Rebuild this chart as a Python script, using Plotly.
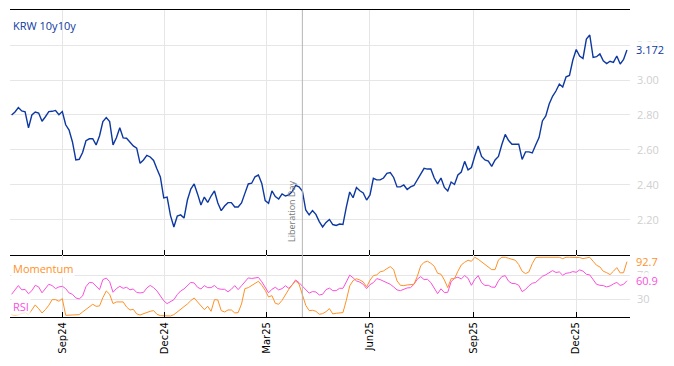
import pandas as pd
import plotly.graph_objects as go
from plotly.subplots import make_subplots

# ---- data ----
dates = pd.date_range("2024-07-18", periods=183, freq="3D")

krw_10y10y = [
    2.800, 2.817, 2.843, 2.823, 2.818, 2.726, 2.800, 2.817, 2.811, 2.764,
    2.790, 2.819, 2.821, 2.826, 2.802, 2.820, 2.744, 2.714, 2.646, 2.543,
    2.547, 2.586, 2.653, 2.664, 2.665, 2.629, 2.680, 2.762, 2.785, 2.762,
    2.629, 2.670, 2.727, 2.669, 2.667, 2.646, 2.623, 2.611, 2.524, 2.543,
    2.569, 2.560, 2.540, 2.491, 2.446, 2.326, 2.331, 2.225, 2.160, 2.223,
    2.229, 2.211, 2.314, 2.377, 2.406, 2.349, 2.286, 2.331, 2.300, 2.337,
    2.366, 2.297, 2.253, 2.280, 2.299, 2.299, 2.274, 2.274, 2.297, 2.352,
    2.406, 2.410, 2.447, 2.457, 2.409, 2.311, 2.295, 2.366, 2.334, 2.320,
    2.349, 2.337, 2.344, 2.362, 2.398, 2.389, 2.366, 2.257, 2.229, 2.254,
    2.232, 2.191, 2.160, 2.186, 2.203, 2.174, 2.169, 2.177, 2.174, 2.274,
    2.360, 2.327, 2.385, 2.367, 2.354, 2.314, 2.343, 2.438, 2.429, 2.429,
    2.440, 2.467, 2.471, 2.443, 2.389, 2.389, 2.400, 2.374, 2.389, 2.397,
    2.429, 2.466, 2.495, 2.491, 2.491, 2.440, 2.406, 2.440, 2.386, 2.366,
    2.417, 2.403, 2.457, 2.474, 2.535, 2.486, 2.500, 2.566, 2.623, 2.563,
    2.543, 2.537, 2.506, 2.543, 2.563, 2.631, 2.689, 2.654, 2.633, 2.633,
    2.633, 2.546, 2.589, 2.589, 2.583, 2.629, 2.671, 2.766, 2.795, 2.863,
    2.907, 2.937, 2.977, 2.960, 3.018, 3.026, 3.114, 3.174, 3.137, 3.123,
    3.234, 3.257, 3.129, 3.133, 3.149, 3.109, 3.094, 3.107, 3.101, 3.137,
    3.091, 3.117, 3.172,
]

rsi = [
    38.3, 45.6, 52.8, 45.8, 46.4, 39.2, 44.4, 53.3, 50.6, 40.8,
    47.8, 55.0, 52.8, 47.8, 50.6, 51.7, 47.8, 40.6, 38.3, 32.2,
    30.6, 35.6, 51.1, 58.1, 57.5, 51.1, 46.1, 62.8, 65.3, 59.4,
    41.7, 47.8, 51.7, 48.3, 50.0, 45.8, 47.2, 41.4, 40.6, 41.4,
    48.9, 53.1, 49.4, 43.9, 35.8, 27.5, 22.8, 25.6, 29.4, 37.8,
    43.9, 47.2, 52.2, 58.1, 57.2, 50.0, 47.2, 52.8, 49.4, 49.4,
    53.1, 47.8, 46.7, 46.7, 42.5, 46.7, 52.8, 46.1, 52.5, 59.4,
    65.6, 64.7, 66.1, 66.4, 59.2, 50.8, 40.8, 46.7, 50.0, 45.6,
    47.8, 52.5, 48.3, 54.2, 62.2, 57.8, 51.7, 46.4, 40.3, 42.8,
    42.2, 37.2, 38.3, 46.1, 48.6, 44.4, 44.4, 48.3, 48.3, 58.9,
    70.3, 65.8, 60.6, 58.6, 55.0, 47.8, 54.4, 57.8, 64.4, 62.8,
    60.0, 58.3, 55.0, 50.6, 45.6, 44.4, 46.9, 48.9, 49.4, 55.0,
    63.6, 67.8, 62.8, 63.3, 57.8, 49.4, 39.4, 47.5, 41.1, 41.7,
    59.4, 65.0, 66.7, 63.9, 69.4, 65.0, 53.3, 63.1, 69.4, 57.8,
    53.1, 53.3, 50.3, 50.0, 60.8, 67.8, 69.4, 60.0, 56.4, 56.1,
    53.3, 42.8, 46.4, 52.5, 56.7, 58.1, 63.3, 68.3, 70.8, 74.7,
    77.8, 74.7, 75.6, 70.0, 73.3, 74.2, 76.1, 75.0, 78.9, 76.9,
    71.7, 70.6, 61.7, 55.0, 53.3, 52.8, 50.6, 52.2, 55.6, 58.1,
    53.1, 55.0, 60.9,
]

momentum = [
    4.4, 3.3, 4.4, 6.1, 7.8, 4.4, 13.3, 20.6, 14.4, 7.2,
    12.8, 20.0, 29.4, 29.4, 26.7, 31.1, 3.3, 3.3, 4.4, 3.3,
    4.4, 8.9, 13.3, 17.2, 21.7, 18.3, 18.9, 32.8, 43.9, 38.3,
    22.8, 25.6, 25.6, 25.6, 17.2, 12.2, 13.3, 5.6, 3.9, 6.1,
    7.2, 10.0, 11.1, 5.0, 2.8, 2.2, 2.2, 2.2, 4.4, 8.9,
    13.3, 17.2, 22.2, 27.8, 32.2, 25.6, 18.9, 12.8, 18.3, 10.0,
    29.4, 28.9, 11.1, 8.9, 12.2, 12.2, 7.2, 7.8, 22.2, 47.8,
    49.4, 52.8, 57.2, 60.0, 53.3, 45.0, 33.9, 36.1, 23.3, 21.7,
    28.3, 37.8, 46.7, 53.9, 60.6, 55.6, 37.2, 20.0, 11.1, 11.7,
    10.0, 5.0, 6.1, 9.4, 14.4, 5.6, 6.7, 7.8, 7.8, 28.3,
    52.2, 61.1, 64.2, 62.2, 58.9, 50.6, 61.7, 69.4, 70.6, 75.8,
    77.2, 81.1, 84.4, 79.4, 60.6, 53.3, 52.8, 53.9, 53.9, 55.0,
    68.3, 85.6, 91.7, 93.3, 90.0, 85.0, 73.3, 71.7, 62.2, 49.4,
    64.4, 64.4, 76.7, 87.2, 91.7, 95.0, 93.3, 100.0, 96.7, 92.2,
    88.9, 84.4, 79.4, 79.4, 95.6, 100.0, 100.0, 98.3, 96.7, 95.0,
    87.8, 76.7, 72.8, 75.6, 89.4, 99.4, 100.0, 100.0, 100.0, 100.0,
    100.0, 99.5, 100.0, 97.8, 100.0, 100.0, 100.0, 99.5, 99.5, 97.8,
    99.5, 100.0, 93.3, 86.7, 83.9, 76.7, 74.4, 71.1, 76.7, 82.8,
    73.9, 74.4, 92.7,
]

main_ticks = [2.2, 2.4, 2.6, 2.8, 3.0, 3.2]
osc_ticks = [30, 70]
event_date = "2025-04-02"
event_label = "Liberation Day"

# ---- styles ----
BLUE = "#0d38a1"
ORANGE = "#ff9126"
PINK = "#fb4fdc"
GRID = "#e6e6e6"
TICKGREY = "#cfcfcf"
FONT = "Open Sans"

fig = make_subplots(rows=2, cols=1, shared_xaxes=True, vertical_spacing=0,
                    row_heights=[0.798, 0.202])

fig.add_trace(go.Scatter(x=dates, y=krw_10y10y, mode="lines",
                         line=dict(color=BLUE, width=1.4), showlegend=False), row=1, col=1)
fig.add_trace(go.Scatter(x=dates, y=rsi, mode="lines",
                         line=dict(color=PINK, width=1.0), showlegend=False), row=2, col=1)
fig.add_trace(go.Scatter(x=dates, y=momentum, mode="lines",
                         line=dict(color=ORANGE, width=1.0), showlegend=False), row=2, col=1)

xrange = ["2024-07-16 14:00", "2026-01-17 17:00"]

fig.update_xaxes(range=xrange, dtick="M3", tick0="2024-09-01", showgrid=True,
                 gridcolor=GRID, gridwidth=1, zeroline=False)
fig.update_xaxes(row=1, col=1, showline=True, linecolor="black", linewidth=1.2,
                 mirror=True, ticks="inside", ticklen=5, tickcolor="black",
                 showticklabels=False)
fig.update_xaxes(row=2, col=1, showline=True, linecolor="black", linewidth=1.2,
                 ticks="inside", ticklen=5, tickcolor="black", tickformat="%b%y",
                 tickangle=-90, tickfont=dict(family="DejaVu Sans", size=10, color="black"))

fig.update_yaxes(row=1, col=1, side="right", range=[2.0, 3.4], tickvals=main_ticks,
                 ticktext=[f"{v:.2f}" for v in main_ticks], showgrid=True, gridcolor=GRID,
                 zeroline=False, ticks="", ticklabelstandoff=6,
                 tickfont=dict(family=FONT, size=11, color=TICKGREY))
fig.update_yaxes(row=2, col=1, side="right", range=[0.5, 103.8], tickvals=osc_ticks,
                 showgrid=True, gridcolor=GRID, zeroline=False, ticks="", ticklabelstandoff=6,
                 tickfont=dict(family=FONT, size=11, color=TICKGREY))

# event line
fig.add_shape(type="line", xref="x", yref="paper", x0=event_date, x1=event_date,
              y0=0, y1=1, line=dict(color="#b5b5b5", width=1))
fig.add_annotation(x=event_date, xref="x", y=2.065, yref="y", text=event_label,
                   textangle=-90, showarrow=False, xanchor="right", yanchor="bottom",
                   xshift=-3, font=dict(family=FONT, size=9, color="#777777"))

# labels
fig.add_annotation(x=0, xref="paper", y=3.314, yref="y", text="KRW 10y10y",
                   showarrow=False, xanchor="left", xshift=1,
                   font=dict(family=FONT, size=11, color=BLUE))
fig.add_annotation(x=0, xref="paper", y=82, yref="y2", text="Momentum",
                   showarrow=False, xanchor="left", xshift=1,
                   bgcolor="rgba(255,255,255,0.85)",
                   font=dict(family=FONT, size=11, color=ORANGE))
fig.add_annotation(x=0, xref="paper", y=18, yref="y2", text="RSI",
                   showarrow=False, xanchor="left", xshift=1,
                   bgcolor="rgba(255,255,255,0.8)",
                   font=dict(family=FONT, size=11, color=PINK))

# last values
fig.add_annotation(x=1, xref="paper", y=krw_10y10y[-1], yref="y",
                   text=f"{krw_10y10y[-1]:.3f}", showarrow=False, xanchor="left", xshift=5,
                   bgcolor="rgba(255,255,255,0.8)", borderpad=0,
                   font=dict(family=FONT, size=11, color=BLUE))
fig.add_annotation(x=1, xref="paper", y=momentum[-1], yref="y2",
                   text=f"{momentum[-1]:.1f}", showarrow=False, xanchor="left", xshift=5,
                   bgcolor="rgba(255,255,255,0.8)", borderpad=0,
                   font=dict(family=FONT, size=11, color=ORANGE))
fig.add_annotation(x=1, xref="paper", y=rsi[-1], yref="y2",
                   text=f"{rsi[-1]:.1f}", showarrow=False, xanchor="left", xshift=5,
                   bgcolor="rgba(255,255,255,0.8)", borderpad=0,
                   font=dict(family=FONT, size=11, color=PINK))

# page body has an 8px default margin, so the figure is sized to fit inside it
fig.update_layout(width=666, height=358, margin=dict(l=2, r=44, t=2, b=49),
                  paper_bgcolor="white", plot_bgcolor="white", showlegend=False)

fig.write_html("out.html")
